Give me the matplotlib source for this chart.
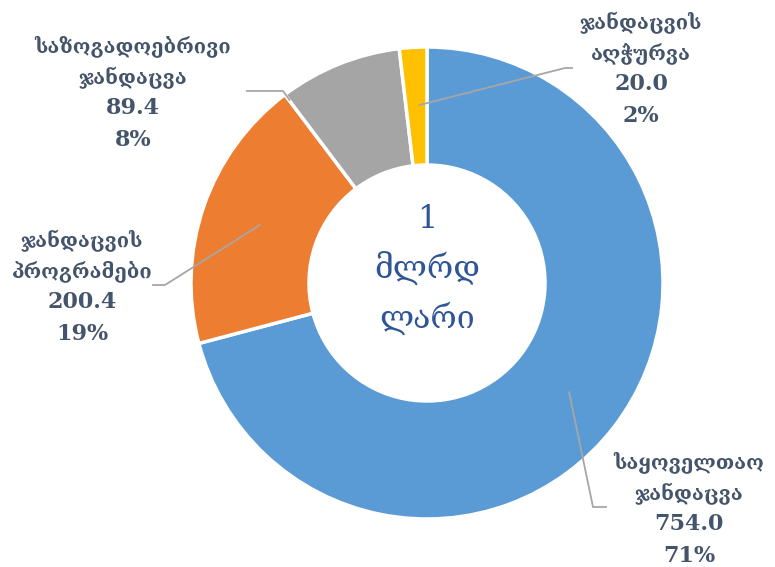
import numpy as np
import matplotlib.pyplot as plt

categories = [["საყოველთაო", "ჯანდაცვა"], ["ჯანდაცვის", "პროგრამები"],
              ["საზოგადოებრივი", "ჯანდაცვა"], ["ჯანდაცვის", "აღჭურვა"]]
values = [754.0, 200.4, 89.4, 20.0]
colors = ["#5B9BD5", "#ED7D31", "#A5A5A5", "#FFC000"]
center_lines = ["1", "მლრდ", "ლარი"]

plt.rcParams['font.family'] = ['DejaVu Serif', 'DejaVu Sans']

W, H = 775, 567
fig = plt.figure(figsize=(W / 100, H / 100), dpi=100)
ax = fig.add_axes([0, 0, 1, 1])
ax.set_xlim(0, W)
ax.set_ylim(0, H)
ax.set_aspect('equal')
ax.axis('off')

cx, cy = 427, H - 283
R = 236
wedges, _ = ax.pie(values, colors=colors, startangle=90, counterclock=False,
                   center=(cx, cy), radius=R,
                   wedgeprops=dict(width=R * 0.5, edgecolor='white', linewidth=2.5))
ax.set_xlim(0, W)
ax.set_ylim(0, H)

total = sum(values)
label_col = "#44546A"
line_col = "#A6A6A6"

# leader start: angle offset from wedge mid-angle (deg) and radius fraction
layout = [
    dict(tx=689, ty=509, dang=0.0, rf=0.76, elbow=[(593, 507), (606, 507)]),
    dict(tx=82, ty=287, dang=0.0, rf=0.75, elbow=[(165, 285), (153, 285)]),
    dict(tx=133, ty=93, dang=15.0, rf=0.97, elbow=[(283, 91), (247, 91)]),
    dict(tx=641, ty=69, dang=-1.0, rf=0.755, elbow=[(565, 68), (572, 68)]),
]

step = 31
for w, cat, v, L in zip(wedges, categories, values, layout):
    pct = v / total * 100
    lines = cat + [f"{v:.1f}", f"{pct:.0f}%"]
    for i, s in enumerate(lines):
        y = L['ty'] + (i - 1.5) * step
        bold = i >= 2
        ax.text(L['tx'], H - y, s, ha='center', va='center',
                fontsize=16 if bold else 14.5,
                fontweight='bold', color=label_col)
    mid = (w.theta1 + w.theta2) / 2 + L['dang']
    a = np.deg2rad(mid)
    sx, sy = cx + L['rf'] * R * np.cos(a), cy + L['rf'] * R * np.sin(a)
    xs = [sx] + [p[0] for p in L['elbow']]
    ys = [sy] + [H - p[1] for p in L['elbow']]
    ax.plot(xs, ys, color=line_col, lw=1.3)

for i, s in enumerate(center_lines):
    y = 220 + i * 49
    ax.text(cx, H - y, s, ha='center', va='center', fontsize=23,
            color="#2F5597")

fig.savefig("out.png", dpi=100)
